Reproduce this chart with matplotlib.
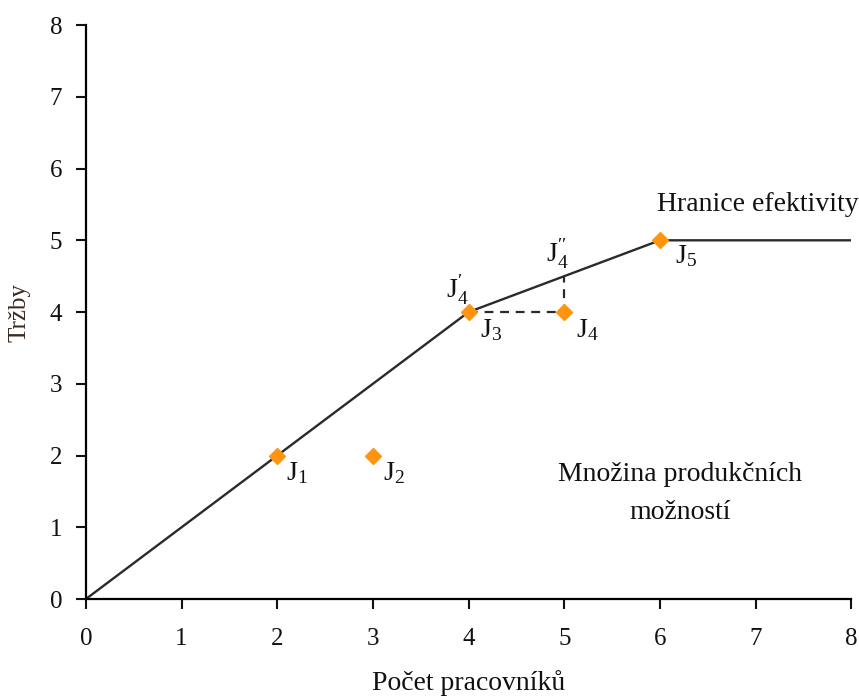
import matplotlib.pyplot as plt

plt.rcParams['font.family'] = ['Liberation Serif', 'DejaVu Serif']
plt.rcParams['mathtext.fontset'] = 'custom'
plt.rcParams['mathtext.rm'] = 'Liberation Serif'
plt.rcParams['mathtext.it'] = 'Liberation Serif:italic'

# hranice efektivity
hranice_x = [0, 4, 6, 8]
hranice_y = [0, 4, 5, 5]

# jednotky
body_x = [2, 3, 4, 5, 6]
body_y = [2, 2, 4, 4, 5]
popisky = [r'J$_1$', r'J$_2$', r'J$_3$', r'J$_4$', r'J$_5$']

# projekce J4
proj_x = [4, 5, 5]
proj_y = [4, 4, 4.5]

fig = plt.figure(figsize=(8.59, 6.97), dpi=100)
ax = fig.add_axes([0.100, 0.1406, 0.891, 0.8234])

ax.plot(hranice_x, hranice_y, color='#2a2a2a', lw=1.7, zorder=2)
ax.plot(proj_x, proj_y, color='#2a2a2a', lw=1.6, ls=(0, (4, 3)), zorder=2)
ax.plot(body_x, body_y, 'D', color='#FF9410', ms=8, mec='#FF9410', zorder=3, clip_on=False)

offs = [(0.21, -0.24), (0.22, -0.24), (0.23, -0.25), (0.24, -0.25), (0.27, -0.22)]
for x, y, t, (dx, dy) in zip(body_x, body_y, popisky, offs):
    ax.text(x + dx, y + dy, t, fontsize=20, ha='center', va='center', color='#111111')

ax.text(3.88, 4.3, r'J$_4^{\prime}$', fontsize=20, ha='center', va='center', color='#111111')
ax.text(4.93, 4.8, r'J$_4^{\prime\prime}$', fontsize=20, ha='center', va='center', color='#111111')

ax.text(7.02, 5.5, 'Hranice efektivity', fontsize=20, ha='center', va='center', color='#111111')
ax.text(6.21, 1.73, 'Množina produkčních', fontsize=20, ha='center', va='center', color='#111111')
ax.text(6.21, 1.2, 'možností', fontsize=20, ha='center', va='center', color='#111111')

ax.set_xlim(0, 8)
ax.set_ylim(0, 8)
ax.set_xticks(range(0, 9))
ax.set_yticks(range(0, 9))
ax.tick_params(labelsize=18, length=7, width=1.5, direction='out', colors='#111111')
ax.tick_params(axis='x', pad=14)
ax.tick_params(axis='y', pad=10)
ax.spines['top'].set_visible(False)
ax.spines['right'].set_visible(False)
ax.spines['left'].set_linewidth(1.6)
ax.spines['bottom'].set_linewidth(1.6)

ax.set_xlabel('Počet pracovníků', fontsize=20, labelpad=14, color='#111111')
ax.set_ylabel('Tržby', fontsize=18, labelpad=14, color='#3a2a20')

fig.savefig('out.png', dpi=100)
